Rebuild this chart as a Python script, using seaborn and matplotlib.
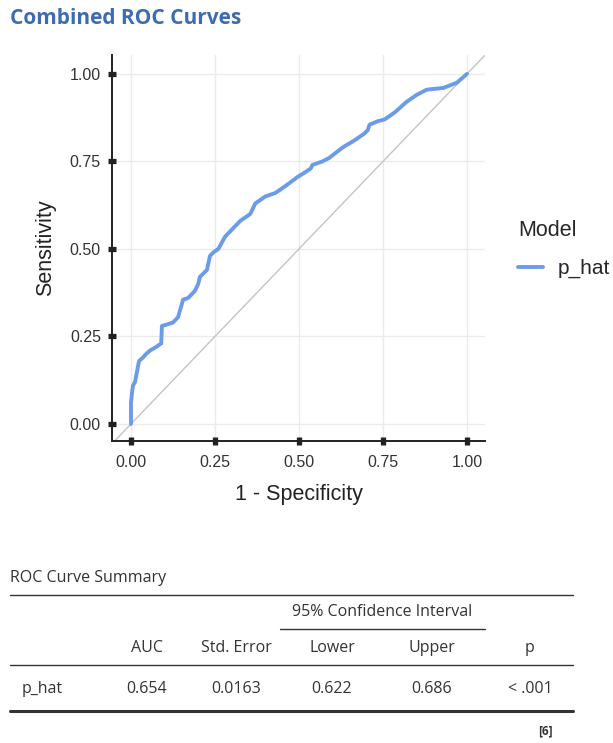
import numpy as np
import pandas as pd
from matplotlib import pyplot as plt
from matplotlib.lines import Line2D
import seaborn as sns

# ROC curve points (1 - specificity, sensitivity)
fpr = [0.0, 0.0, 0.003, 0.006, 0.012, 0.018, 0.024, 0.036, 0.045, 0.057, 0.075,
       0.09, 0.092, 0.11, 0.125, 0.14, 0.146, 0.155, 0.17, 0.19, 0.2, 0.205,
       0.226, 0.235, 0.245, 0.26, 0.28, 0.3, 0.325, 0.34, 0.355, 0.37, 0.4,
       0.43, 0.46, 0.495, 0.52, 0.535, 0.54, 0.57, 0.59, 0.63, 0.665, 0.695,
       0.705, 0.71, 0.735, 0.755, 0.785, 0.82, 0.85, 0.88, 0.93, 0.97, 1.0]
tpr = [0.0, 0.06, 0.09, 0.11, 0.12, 0.15, 0.18, 0.19, 0.2, 0.21, 0.22,
       0.23, 0.28, 0.285, 0.29, 0.305, 0.325, 0.355, 0.36, 0.38, 0.4, 0.42,
       0.44, 0.48, 0.49, 0.5, 0.535, 0.555, 0.58, 0.59, 0.6, 0.63, 0.65,
       0.66, 0.68, 0.705, 0.72, 0.73, 0.74, 0.75, 0.76, 0.79, 0.81, 0.83,
       0.84, 0.855, 0.865, 0.87, 0.89, 0.92, 0.94, 0.955, 0.96, 0.975, 1.0]
model = 'p_hat'

ticks = [0.0, 0.25, 0.5, 0.75, 1.0]
tick_labels = ['0.00', '0.25', '0.50', '0.75', '1.00']

# summary table
col_names = ['AUC', 'Std. Error', 'Lower', 'Upper', 'p']
row_values = ['0.654', '0.0163', '0.622', '0.686', '< .001']

W, H = 613, 743
sns.set_style('white')
plt.rcParams['font.family'] = ['Liberation Sans', 'DejaVu Sans']

fig = plt.figure(figsize=(W / 100, H / 100), dpi=100)


def fx(px):
    return px / W


def fy(py):
    return 1 - py / H


ax = fig.add_axes([fx(112), fy(441), fx(485) - fx(112), fy(55) - fy(441)])

df = pd.DataFrame({'fpr': fpr, 'tpr': tpr, 'Model': model})

ax.plot([-0.1, 1.1], [-0.1, 1.1], color='#c4c4c4', lw=1.0, zorder=1)
sns.lineplot(data=df, x='fpr', y='tpr', hue='Model', palette=['#6C9BE8'],
             sort=False, estimator=None, lw=2.8, ax=ax, zorder=3)

ax.set_xlim(-0.0565, 1.0536)
ax.set_ylim(-0.0486, 1.054)
ax.set_xticks(ticks)
ax.set_xticklabels(tick_labels)
ax.set_yticks(ticks)
ax.set_yticklabels(tick_labels)
ax.grid(True, color='#ebebeb', lw=1.0)
ax.set_axisbelow(True)
for side in ['top', 'right']:
    ax.spines[side].set_visible(False)
for side in ['left', 'bottom']:
    ax.spines[side].set_color('#222222')
    ax.spines[side].set_linewidth(1.4)
ax.tick_params(axis='both', bottom=True, left=True, direction='inout',
               length=6, width=3.8, color='#222222', labelsize=11.5,
               labelcolor='#333333')
ax.tick_params(axis='x', pad=7)
ax.tick_params(axis='y', pad=5)
ax.set_xlabel('1 - Specificity', fontsize=15.5, color='#222222', labelpad=10)
ax.set_ylabel('Sensitivity', fontsize=15.5, color='#222222', labelpad=10)

leg = ax.legend(title='Model', loc='upper left', bbox_to_anchor=(1.05, 0.61),
                frameon=False, fontsize=15, title_fontsize=15.5,
                handlelength=1.2, handletextpad=0.7, alignment='left',
                borderaxespad=0.3, labelspacing=0.85)
for line in leg.get_lines():
    line.set_linewidth(2.8)

fig.text(fx(10), fy(18), 'Combined ROC Curves', fontsize=15, fontweight='bold',
         color='#3d6cb3', family=['Open Sans', 'DejaVu Sans'], va='center')

# table
tf = ['Open Sans', 'DejaVu Sans']
tc = '#333333'
fs = 11.5
fig.text(fx(10), fy(578), 'ROC Curve Summary', fontsize=fs, color=tc,
         family=tf, va='center')


def hline(x0, x1, y, lw):
    fig.add_artist(Line2D([fx(x0), fx(x1)], [fy(y), fy(y)], color='#333333',
                          lw=lw, transform=fig.transFigure))


hline(10, 573, 595, 1.0)
hline(280, 485, 629, 1.0)
hline(10, 573, 665, 1.0)
hline(10, 573, 711, 2.2)

fig.text(fx(382), fy(612), '95% Confidence Interval', fontsize=fs, color=tc,
         family=tf, ha='center', va='center')
col_x = [147, 236, 332, 432, 530]
for cx, name, val in zip(col_x, col_names, row_values):
    fig.text(fx(cx), fy(648), name, fontsize=fs, color=tc, family=tf,
             ha='center', va='center')
    fig.text(fx(cx), fy(689), val, fontsize=fs, color=tc, family=tf,
             ha='center', va='center')
fig.text(fx(22), fy(689), model, fontsize=fs, color=tc, family=tf,
         va='center')
fig.text(fx(545), fy(731), '[6]', fontsize=8.5, fontweight='bold', color=tc,
         family=tf, ha='center', va='center')

fig.savefig('out.png', dpi=100)
